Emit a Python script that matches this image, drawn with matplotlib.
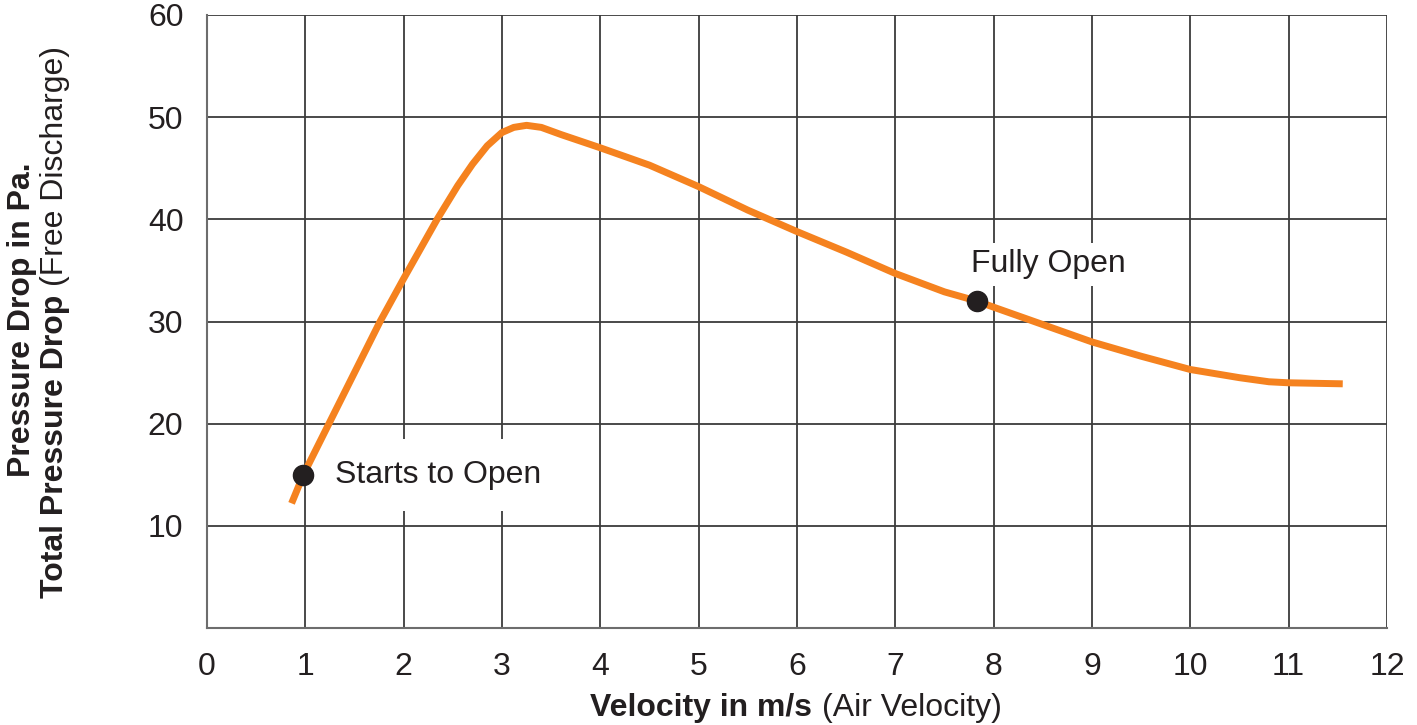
import numpy as np
import matplotlib
matplotlib.use("Agg")
import matplotlib.pyplot as plt
from matplotlib.offsetbox import TextArea, HPacker, AnnotationBbox

plt.rcParams['font.family'] = ['Liberation Sans', 'DejaVu Sans']

# curve (velocity m/s, pressure drop Pa)
velocity = [0.86, 0.98, 1.24, 1.5, 1.76, 2.0, 2.34, 2.55, 2.7, 2.85, 3.0, 3.12,
            3.25, 3.4, 3.6, 4.0, 4.5, 5.0, 5.5, 6.0, 6.5, 7.0, 7.5, 7.83,
            8.0, 8.5, 9.0, 9.5, 10.0, 10.5, 10.8, 11.0, 11.55]
pressure = [12.2, 15.0, 20.0, 25.0, 30.0, 34.2, 40.0, 43.3, 45.4, 47.2, 48.5, 49.0,
            49.2, 49.0, 48.3, 47.0, 45.3, 43.2, 40.9, 38.8, 36.8, 34.7, 32.9, 32.0,
            31.4, 29.7, 28.0, 26.6, 25.3, 24.5, 24.1, 24.0, 23.9]

marker_x = [0.98, 7.83]
marker_y = [15.0, 32.0]
marker_labels = ['Starts to Open', 'Fully Open']

x_ticks = list(range(0, 13))
y_ticks = [10, 20, 30, 40, 50, 60]

orange = '#f5821f'
ink = '#231f20'
grid_col = '#3c3c3c'
fs = 23

fig = plt.figure(figsize=(14.17, 7.25), dpi=100)
ax = fig.add_axes([207/1417, 1 - 628/725, (1387-207)/1417, (628-15)/725])

ax.set_xlim(0, 12)
ax.set_ylim(0, 60)
ax.set_xticks(x_ticks)
ax.set_yticks(y_ticks)
ax.tick_params(length=0, pad=17, labelsize=fs, colors=ink)
ax.grid(True, color=grid_col, linewidth=1.3, zorder=0)
ax.set_axisbelow(True)
for side in ['top', 'right']:
    ax.spines[side].set_visible(False)
for side in ['left', 'bottom']:
    ax.spines[side].set_color('#6d6d6d')
    ax.spines[side].set_linewidth(1.5)

ax.plot(velocity, pressure, color=orange, linewidth=5, solid_capstyle='butt', zorder=3)
ax.plot(marker_x, marker_y, 'o', color=ink, markersize=14.5, zorder=4)

# point labels with white boxes hiding the grid behind them
ax.text(1.3, 15.0, marker_labels[0], fontsize=fs, color=ink, va='center', ha='left',
        bbox=dict(boxstyle='square,pad=0.65', fc='white', ec='none'), zorder=2)
ax.text(7.77, 35.6, marker_labels[1], fontsize=fs, color=ink, va='center', ha='left',
        bbox=dict(boxstyle='square,pad=0.2', fc='white', ec='none'), zorder=2)

# x label: bold part + normal part
xl = HPacker(children=[TextArea('Velocity in m/s', textprops=dict(fontsize=fs, fontweight='bold', color=ink)),
                       TextArea('(Air Velocity)', textprops=dict(fontsize=fs, color=ink))],
             align='baseline', pad=0, sep=7)
ab = AnnotationBbox(xl, (796/1417, 1 - 708/725), xycoords='figure fraction',
                    frameon=False, box_alignment=(0.5, 0.5))
fig.add_artist(ab)

# y label, two rotated lines
fig.text(22/1417, 1 - 320/725, 'Pressure Drop in Pa.', rotation=90, fontsize=fs,
         fontweight='bold', color=ink, ha='center', va='center')
t2 = fig.text(55/1417, 1 - 598/725, 'Total Pressure Drop', rotation=90, fontsize=fs,
              fontweight='bold', color=ink, ha='center', va='bottom')
fig.add_artist(plt.Annotation('(Free Discharge)', xy=(0.5, 1), xycoords=t2,
                              xytext=(0, 6), textcoords='offset points',
                              rotation=90, fontsize=fs, color=ink, ha='center', va='bottom'))

fig.savefig('out.png', dpi=100)
